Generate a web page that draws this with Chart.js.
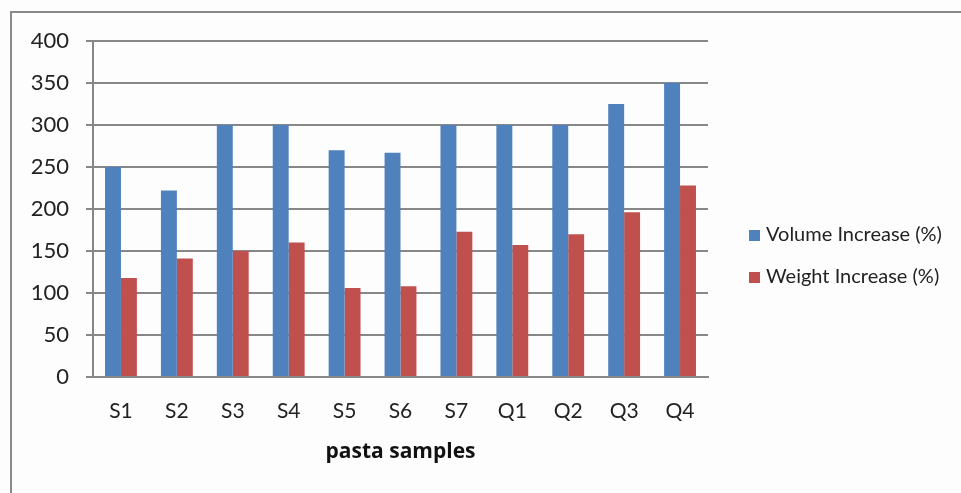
<!DOCTYPE html>
<html>
<head>
<meta charset="utf-8">
<script src="https://cdn.jsdelivr.net/npm/chart.js@4"></script>
<style>
  html, body { margin: 0; padding: 0; background: #fdfdfd; }
  #wrap { width: 961px; height: 493px; position: relative; }
</style>
</head>
<body>
<div id="wrap"><canvas id="chart" width="961" height="493"></canvas></div>
<script>
const samples = ['S1', 'S2', 'S3', 'S4', 'S5', 'S6', 'S7', 'Q1', 'Q2', 'Q3', 'Q4'];
const volumeIncrease = [250, 222, 300, 300, 270, 267, 300, 300, 300, 325, 350];
const weightIncrease = [118, 141, 150, 160, 106, 108, 173, 157, 170, 196, 228];
const seriesNames = ['Volume Increase (%)', 'Weight Increase (%)'];
const seriesColors = ['#4f81bd', '#c0504d'];
const yTicks = [0, 50, 100, 150, 200, 250, 300, 350, 400];

const FONT = 'Lato, "Open Sans", sans-serif';
const GRID = '#878787';

// outer frame + legend drawn by hand
const framePlugin = {
  id: 'frame',
  beforeDraw(chart) {
    const { ctx } = chart;
    ctx.save();
    ctx.fillStyle = '#fdfdfd';
    ctx.fillRect(0, 0, chart.width, chart.height);
    ctx.strokeStyle = '#8a8a8a';
    ctx.lineWidth = 2;
    ctx.beginPath();
    ctx.moveTo(11, chart.height + 5);
    ctx.lineTo(11, 12);
    ctx.lineTo(chart.width + 5, 12);
    ctx.stroke();
    ctx.restore();
  },
  afterDraw(chart) {
    const { ctx } = chart;
    ctx.save();
    ctx.font = '20px ' + FONT;
    ctx.textBaseline = 'middle';
    const rows = [235, 277];
    chart.data.datasets.forEach((ds, i) => {
      ctx.fillStyle = ds.backgroundColor;
      ctx.fillRect(749, rows[i] - 5, 11, 11);
      ctx.fillStyle = '#222';
      ctx.fillText(ds.label, 766, rows[i]);
    });
    ctx.restore();
  }
};

new Chart(document.getElementById('chart').getContext('2d'), {
  type: 'bar',
  data: {
    labels: samples,
    datasets: [
      { label: seriesNames[0], data: volumeIncrease, backgroundColor: seriesColors[0] },
      { label: seriesNames[1], data: weightIncrease, backgroundColor: seriesColors[1] }
    ]
  },
  options: {
    responsive: false,
    animation: false,
    layout: { padding: { left: 0, top: 41, right: 253, bottom: 0 } },
    datasets: { bar: { barPercentage: 1, categoryPercentage: 0.57 } },
    plugins: { legend: { display: false }, tooltip: { enabled: false } },
    scales: {
      x: {
        grid: { display: false, drawTicks: false },
        border: { display: true, color: GRID, width: 2 },
        ticks: { color: '#222', font: { family: FONT, size: 21 }, padding: 22 },
        title: {
          display: true, text: 'pasta samples', color: '#111',
          font: { family: '"Open Sans", sans-serif', size: 21, weight: 'bold' },
          padding: { top: 4, bottom: 28 }
        },
        afterFit(scale) { scale.height = 116; }
      },
      y: {
        min: 0, max: 400,
        afterBuildTicks(scale) { scale.ticks = yTicks.map(v => ({ value: v })); },
        grid: { color: GRID, lineWidth: 2, tickLength: 7 },
        border: { color: GRID, width: 2 },
        ticks: { color: '#222', font: { family: FONT, size: 22 }, padding: 17 },
        afterFit(scale) { scale.width = 93; }
      }
    }
  },
  plugins: [framePlugin]
});
</script>
</body>
</html>
